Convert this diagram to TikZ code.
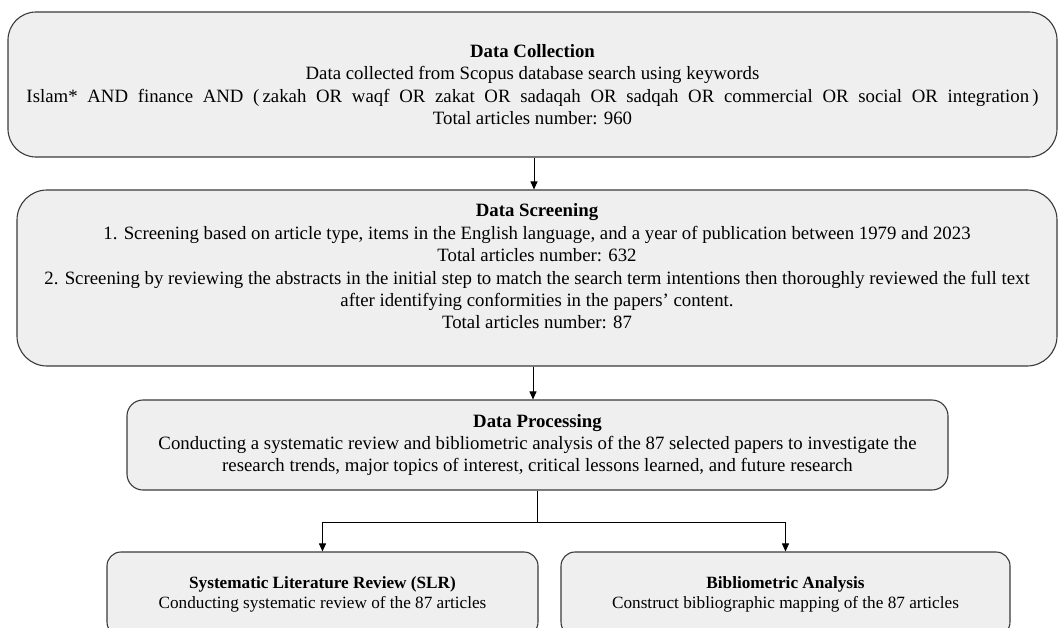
\documentclass[tikz,border=0pt]{standalone}
\usepackage{fontspec}
\setmainfont{Liberation Serif}
\usetikzlibrary{arrows.meta}
\definecolor{boxfill}{HTML}{EFEFEF}
\definecolor{boxdraw}{HTML}{3A3A3A}
\begin{document}
\begin{tikzpicture}[x=1pt,y=-1pt,
  box/.style={draw=boxdraw, fill=boxfill, line width=1.1pt, align=center, inner sep=0pt},
  big/.style={font=\fontsize{18.8}{22.4}\selectfont},
  small/.style={font=\fontsize{17.2}{20}\selectfont},
  arr/.style={-{Triangle[length=8pt,width=7pt]}, line width=0.9pt, draw=black}]
\useasboundingbox (0,0) rectangle (1058,627);
\clip (0,0) rectangle (1058,627);
\fill[white] (0,0) rectangle (1058,627);
% Data collection
\node[box,big,rounded corners=28pt,minimum width=1049pt,minimum height=145pt] (col) at (532.5,84.5)
  {\textbf{Data Collection}\\
   Data collected from Scopus database search using keywords\\
   \makebox[1012pt][s]{Islam* AND finance AND (\,zakah OR waqf OR zakat OR sadaqah OR sadqah OR commercial OR social OR integration\,)}\\
   Total articles number: 960};
% Data screening
\node[box,rounded corners=30pt,minimum width=1040pt,minimum height=176pt] (scr) at (537,278) {};
\node[big,align=center,inner sep=0pt] (scrtext) at (537,266.5)
  {\textbf{Data Screening}\\
   1. Screening based on article type, items in the English language, and a year of publication between 1979 and 2023\\
   Total articles number: 632\\
   2. Screening by reviewing the abstracts in the initial step to match the search term intentions then thoroughly reviewed the full text\\
   after identifying conformities in the papers’ content.\\
   Total articles number: 87};
% Data processing
\node[box,big,rounded corners=16pt,minimum width=821pt,minimum height=90pt] (proc) at (537.5,445)
  {\textbf{Data Processing}\\
   Conducting a systematic review and bibliometric analysis of the 87 selected papers to investigate the\\
   research trends, major topics of interest, critical lessons learned, and future research};
% SLR
\node[box,small,rounded corners=14pt,minimum width=431pt,minimum height=84pt] (slr) at (322.5,594)
  {\textbf{Systematic Literature Review (SLR)}\\
   Conducting systematic review of the 87 articles};
% Bibliometric
\node[box,small,rounded corners=14pt,minimum width=449pt,minimum height=84pt] (bib) at (785.5,594)
  {\textbf{Bibliometric Analysis}\\
   Construct bibliographic mapping of the 87 articles};
% connectors
\draw[arr] ([xshift=1.5pt]col.south) -- ([xshift=1.5pt]col.south |- scr.north);
\draw[arr] ([xshift=-4pt]scr.south) -- ([xshift=-4pt]scr.south |- proc.north);
\draw[line width=0.9pt] (proc.south) -- ++(0,32) coordinate (fork);
\draw[arr] (fork) -| (slr.north);
\draw[arr] (fork) -| (bib.north);
\end{tikzpicture}
\end{document}
